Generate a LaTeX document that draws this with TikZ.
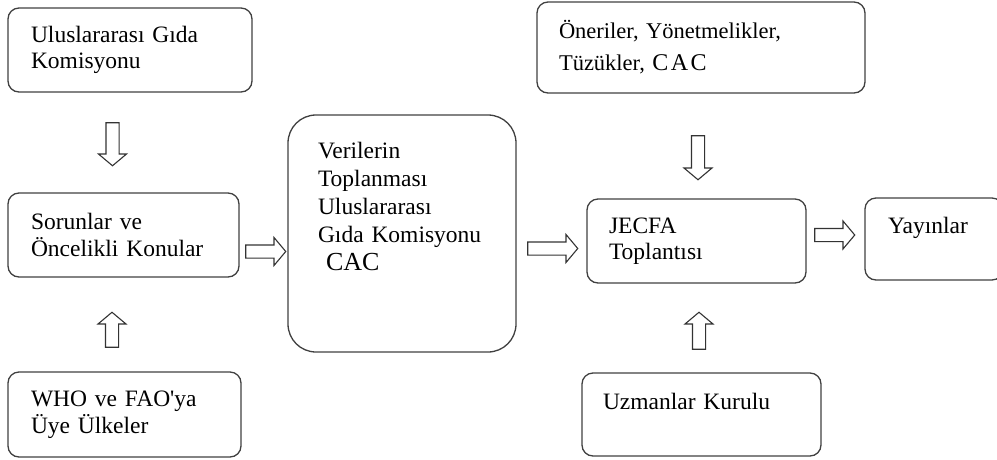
\documentclass[tikz,border=0pt]{standalone}
\usepackage{fontspec}
\setmainfont{Liberation Serif}
\usetikzlibrary{shapes.arrows}
\tikzset{
  box/.style={draw=black!75, line width=1.3pt, rounded corners=11pt, align=left,
    inner xsep=23pt, inner ysep=0pt, font=\fontsize{23.5}{26.5}\selectfont},
  blockarrow/.style={single arrow, draw=black!80, line width=1.1pt, fill=white,
    minimum width=27pt, single arrow head extend=7.5pt, single arrow tip angle=100,
    inner xsep=0pt, inner ysep=6pt},
}
\begin{document}
\begin{tikzpicture}[x=1pt, y=-1pt]
    \useasboundingbox (0,0) rectangle (997,459);
    % left column
    \node[box, text width=198pt, minimum height=84pt] (uluslar) at (130,50) {Uluslararası Gıda\\Komisyonu};
    \node[box, text width=185pt, minimum height=84pt] (sorun) at (123.5,235) {Sorunlar ve\\Öncelikli Konular};
    \node[box, text width=187pt, minimum height=85pt] (who) at (124.5,414.5) {WHO ve FAO\textquotesingle ya\\Üye Ülkeler};
    % middle
    \node[box, rounded corners=28pt, inner xsep=30pt, text width=168pt, minimum height=237pt,
      font=\fontsize{23.5}{28}\selectfont] (veri) at (402,233.5)
      {Verilerin\\Toplanması\\Uluslararası\\Gıda Komisyonu\\\hspace*{8pt}{\fontsize{26}{28}\selectfont CAC}\rule[-54pt]{0pt}{54pt}};
    % right column
    \node[box, inner xsep=22pt, text width=284pt, minimum height=91pt,
      font=\fontsize{22.5}{32}\selectfont] (oneri) at (701,47.5)
      {Öneriler, Yönetmelikler,\\Tüzükler, {\fontsize{24}{32}\selectfont\addfontfeature{LetterSpace=10}CAC}};
    \node[box, inner xsep=22pt, text width=175pt, minimum height=84pt] (jecfa) at (696.5,241) {JECFA\\Toplantısı};
    \node[box, text width=92pt, minimum height=82pt] (yayin) at (934,239) {Yayınlar\\\mbox{}};
    \node[box, inner xsep=21pt, text width=197pt, minimum height=83pt] (uzman) at (701.5,414.5) {Uzmanlar Kurulu\\\mbox{}};
    % block arrows
    \node[blockarrow, minimum height=43pt, rotate=-90] (ok1) at (112.5,141.5) {};
    \node[blockarrow, minimum height=35pt, rotate=90] (ok2) at (112,332.5) {};
    \node[blockarrow, minimum height=40pt] (ok3) at (263,251.5) {};
    \node[blockarrow, minimum height=50pt] (ok4) at (550,248.5) {};
    \node[blockarrow, minimum height=44pt, rotate=-90] (ok5) at (698,155) {};
    \node[blockarrow, minimum height=40pt] (ok6) at (832,235) {};
    \node[blockarrow, minimum height=37pt, rotate=90] (ok7) at (699,333.5) {};
\end{tikzpicture}
\end{document}
